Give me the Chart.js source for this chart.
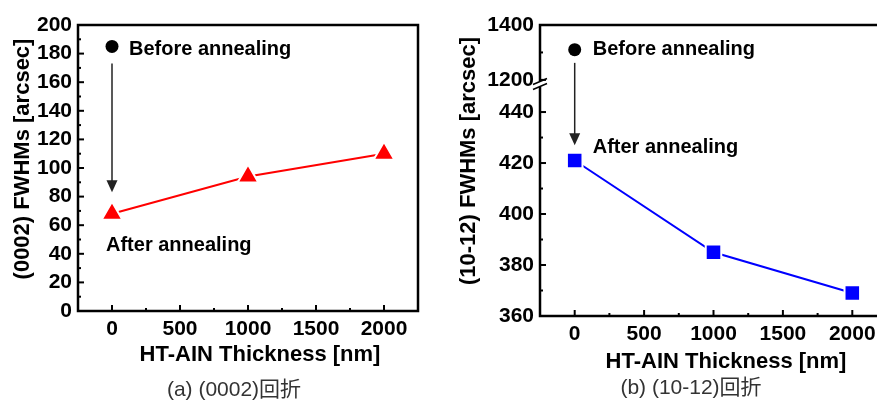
<!DOCTYPE html>
<html>
<head>
<meta charset="utf-8">
<script src="https://cdn.jsdelivr.net/npm/chart.js@4.4.0/dist/chart.umd.min.js"></script>
<style>
    body { margin: 0; width: 877px; height: 400px; overflow: hidden; background: #fff; position: relative; }
    .box { position: absolute; top: 0; height: 400px; }
    #boxA { left: 0; width: 440px; }
    #boxB { left: 440px; width: 460px; }
</style>
</head>
<body>
<div class="box" id="boxA"><canvas id="chartA"></canvas></div>
<div class="box" id="boxB"><canvas id="chartB"></canvas></div>
<script>
// --- Data --- //
const thickness = [0, 1000, 2000];
const fwhm0002After = [68, 94, 110];
const fwhm0002Before = [185];
const fwhm1012After = [421, 385, 369];
const fwhm1012Before = [1310];

const xTicks = [0, 500, 1000, 1500, 2000];
const yTicks0002 = [0, 20, 40, 60, 80, 100, 120, 140, 160, 180, 200];
const yTicks1012Low = [360, 380, 400, 420, 440];
const yTicks1012High = [1200, 1400];

const FONT = '"Liberation Sans", Arial, "Noto Sans CJK JP", sans-serif';

// minor ticks sit half way between the major ones
const midpoints = ticks => ticks.slice(1).map((v, i) => (v + ticks[i]) / 2);

const tickFont = { family: FONT, size: 21, weight: 'bold' };
const plain = v => String(v); // no thousands separator

function xScale() {
    return {
        type: 'linear', min: -250, max: 2250,
        grid: { display: false, drawTicks: false }, border: { display: false },
        ticks: { font: tickFont, color: '#000', padding: 6, maxRotation: 0, callback: plain },
        afterBuildTicks: s => { s.ticks = xTicks.map(v => ({ value: v })); },
    };
}

function yScale(min, max, ticks, extra) {
    return Object.assign({
        type: 'linear', position: 'left', min: min, max: max,
        grid: { display: false, drawTicks: false }, border: { display: false },
        ticks: { font: tickFont, color: '#000', padding: 6, callback: plain },
        afterBuildTicks: s => { s.ticks = ticks.map(v => ({ value: v })); },
    }, extra);
}

// Frame, inward ticks, arrow, notes and titles
const decorPlugin = {
    id: 'decor',
    afterDraw(chart, args, opts) {
        const ctx = chart.ctx;
        const a = chart.chartArea;
        const sx = chart.scales.x;
        ctx.save();

        // inward tick marks
        ctx.strokeStyle = '#000';
        ctx.lineWidth = 2;
        const tick = (scale, values, len) => values.forEach(v => {
            const p = scale.getPixelForValue(v);
            ctx.beginPath();
            if (scale.isHorizontal()) { ctx.moveTo(p, a.bottom); ctx.lineTo(p, a.bottom - len); }
            else { ctx.moveTo(a.left, p); ctx.lineTo(a.left + len, p); }
            ctx.stroke();
        });
        tick(sx, xTicks, 6);
        tick(sx, midpoints(xTicks), 3);
        opts.yAxes.forEach(y => {
            tick(chart.scales[y.id], y.ticks, 6);
            tick(chart.scales[y.id], y.minor, 3);
        });

        // frame
        ctx.lineWidth = 2.5;
        ctx.strokeRect(a.left, a.top, a.right - a.left, a.bottom - a.top);

        // axis break
        if (opts.breakAt) {
            const by = opts.breakAt;
            ctx.fillStyle = '#fff';
            ctx.fillRect(a.left - 3, by - 3, 6, 6);
            ctx.lineWidth = 1.5;
            [-2.5, 2.5].forEach(o => {
                ctx.beginPath();
                ctx.moveTo(a.left - 7, by + o + 3);
                ctx.lineTo(a.left + 7, by + o - 3);
                ctx.stroke();
            });
        }

        // annealing arrow
        const ar = opts.arrow;
        const ax = sx.getPixelForValue(ar.x);
        const y0 = chart.scales[ar.fromScale].getPixelForValue(ar.from);
        const y1 = chart.scales[ar.toScale].getPixelForValue(ar.to);
        ctx.strokeStyle = '#222';
        ctx.fillStyle = '#222';
        ctx.lineWidth = 1.5;
        ctx.beginPath();
        ctx.moveTo(ax, y0);
        ctx.lineTo(ax, y1 - 10);
        ctx.stroke();
        ctx.beginPath();
        ctx.moveTo(ax - 5.5, y1 - 12);
        ctx.lineTo(ax + 5.5, y1 - 12);
        ctx.lineTo(ax, y1);
        ctx.closePath();
        ctx.fill();

        // notes next to the points
        ctx.fillStyle = '#000';
        ctx.font = 'bold 20px ' + FONT;
        ctx.textAlign = 'left';
        ctx.textBaseline = 'middle';
        opts.notes.forEach(n => {
            ctx.fillText(n.text, sx.getPixelForValue(n.x) + n.dx, chart.scales[n.scale].getPixelForValue(n.y));
        });

        // axis titles
        ctx.font = 'bold 22px ' + FONT;
        ctx.textAlign = 'center';
        ctx.fillText(opts.xTitle.text, opts.xTitle.x, opts.xTitle.y);
        ctx.save();
        ctx.translate(opts.yTitle.x, opts.yTitle.y);
        ctx.rotate(-Math.PI / 2);
        ctx.fillText(opts.yTitle.text, 0, 0);
        ctx.restore();

        // caption
        ctx.font = '21px ' + FONT;
        ctx.fillStyle = '#333';
        ctx.fillText(opts.caption.text, opts.caption.x, opts.caption.y);
        ctx.restore();
    }
};

// --- (a) (0002) --- //
new Chart(document.getElementById('chartA'), {
    type: 'scatter',
    data: {
        datasets: [
            {
                label: 'After annealing',
                data: thickness.map((x, i) => ({ x: x, y: fwhm0002After[i] })),
                showLine: true, borderColor: '#ff0000', borderWidth: 2,
                pointStyle: 'triangle', pointRadius: 12, pointBackgroundColor: '#ff0000',
                pointBorderColor: '#fff', pointBorderWidth: 2,
            },
            {
                label: 'Before annealing',
                data: fwhm0002Before.map((y, i) => ({ x: thickness[i], y: y })),
                pointStyle: 'circle', pointRadius: 6.5, pointBackgroundColor: '#000', pointBorderColor: '#000', borderWidth: 0,
            }
        ]
    },
    options: {
        responsive: true, maintainAspectRatio: false, animation: false,
        layout: { padding: { top: 25, right: 22, left: 0, bottom: 0 } },
        scales: {
            x: Object.assign(xScale(), { afterFit: s => { s.height = 89; } }),
            y: yScale(0, 200, yTicks0002, { afterFit: s => { s.width = 78; } }),
        },
        plugins: {
            legend: { display: false }, tooltip: { enabled: false },
            decor: {
                yAxes: [{ id: 'y', ticks: yTicks0002, minor: midpoints(yTicks0002) }],
                arrow: { x: 0, fromScale: 'y', from: 173, toScale: 'y', to: 83 },
                notes: [
                    { text: 'Before annealing', x: 0, dx: 17, scale: 'y', y: 183 },
                    { text: 'After annealing', x: 0, dx: -6, scale: 'y', y: 46 },
                ],
                xTitle: { text: 'HT-AIN Thickness [nm]', x: 260, y: 355 },
                yTitle: { text: '(0002) FWHMs [arcsec]', x: 23, y: 159 },
                caption: { text: '(a) (0002)回折', x: 234, y: 390 },
            }
        }
    },
    plugins: [decorPlugin]
});

// --- (b) (10-12), broken y axis --- //
new Chart(document.getElementById('chartB'), {
    type: 'scatter',
    data: {
        datasets: [
            {
                label: 'After annealing',
                data: thickness.map((x, i) => ({ x: x, y: fwhm1012After[i] })),
                yAxisID: 'y',
                showLine: true, borderColor: '#0000ff', borderWidth: 2,
                pointStyle: 'rect', pointRadius: 11, pointBackgroundColor: '#0000ff',
                pointBorderColor: '#fff', pointBorderWidth: 2,
            },
            {
                label: 'Before annealing',
                data: fwhm1012Before.map((y, i) => ({ x: thickness[i], y: y })),
                yAxisID: 'y2',
                pointStyle: 'circle', pointRadius: 6.5, pointBackgroundColor: '#000', pointBorderColor: '#000', borderWidth: 0,
            }
        ]
    },
    options: {
        responsive: true, maintainAspectRatio: false, animation: false,
        layout: { padding: { top: 25, right: 13, left: 0, bottom: 0 } },
        scales: {
            x: Object.assign(xScale(), { afterFit: s => { s.height = 84; } }),
            y: yScale(360, 451, yTicks1012Low, { stack: 'fwhm', stackWeight: 232, afterFit: s => { s.width = 100; } }),
            y2: yScale(1185, 1400, yTicks1012High, { stack: 'fwhm', stackWeight: 59, afterFit: s => { s.width = 100; } }),
        },
        plugins: {
            legend: { display: false }, tooltip: { enabled: false },
            decor: {
                yAxes: [
                    { id: 'y', ticks: yTicks1012Low, minor: midpoints(yTicks1012Low) },
                    { id: 'y2', ticks: yTicks1012High, minor: midpoints(yTicks1012High) },
                ],
                breakAt: 84,
                arrow: { x: 0, fromScale: 'y2', from: 1262, toScale: 'y', to: 427 },
                notes: [
                    { text: 'Before annealing', x: 0, dx: 18, scale: 'y2', y: 1310 },
                    { text: 'After annealing', x: 0, dx: 18, scale: 'y', y: 426 },
                ],
                xTitle: { text: 'HT-AIN Thickness [nm]', x: 286, y: 362 },
                yTitle: { text: '(10-12) FWHMs [arcsec]', x: 29, y: 161 },
                caption: { text: '(b) (10-12)回折', x: 251, y: 388 },
            }
        }
    },
    plugins: [decorPlugin]
});
</script>
</body>
</html>
